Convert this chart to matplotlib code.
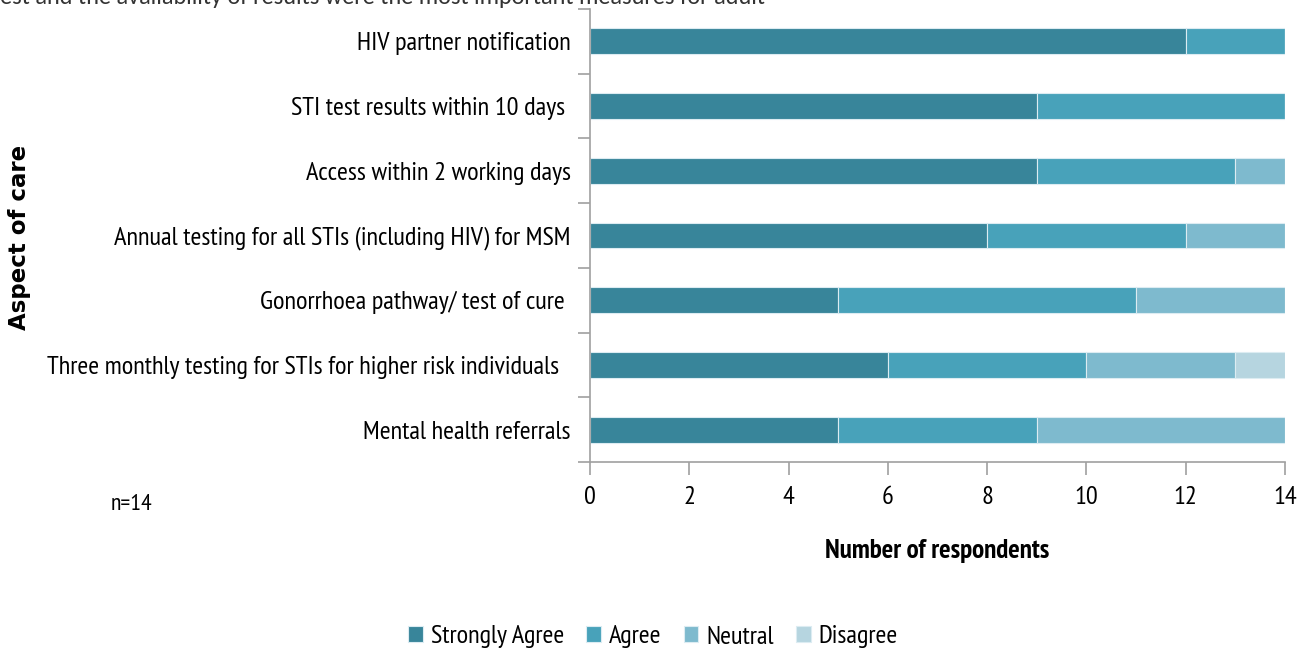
import numpy as np
import matplotlib
matplotlib.use("Agg")
import matplotlib.pyplot as plt

# Aspects of care, top to bottom as shown
aspects = [
    "HIV partner notification",
    "STI test results within 10 days ",
    "Access within 2 working days",
    "Annual testing for all STIs (including HIV) for MSM",
    "Gonorrhoea pathway/ test of cure ",
    "Three monthly testing for STIs for higher risk individuals  ",
    "Mental health referrals",
]
strongly_agree = [12, 9, 9, 8, 5, 6, 5]
agree = [2, 5, 4, 4, 6, 4, 4]
neutral = [0, 0, 1, 2, 3, 3, 5]
disagree = [0, 0, 0, 0, 0, 1, 0]

series = ["Strongly Agree", "Agree", "Neutral", "Disagree"]
colors = ["#38859a", "#48a2ba", "#7ebace", "#b6d5e0"]
xticks = [0, 2, 4, 6, 8, 10, 12, 14]

plt.rcParams["font.family"] = ["PT Sans Narrow", "DejaVu Sans"]

fig = plt.figure(figsize=(13.14, 6.54), dpi=100)
ax = fig.add_axes([590 / 1314, 1 - 462 / 654, 695 / 1314, 453 / 654])

y = np.arange(len(aspects))
left = np.zeros(len(aspects))
for name, vals, c in zip(series, [strongly_agree, agree, neutral, disagree], colors):
    vals = np.array(vals, dtype=float)
    ax.barh(y, vals, left=left, height=0.4, color=c, edgecolor="#dcecf2",
            linewidth=0.8, label=name)
    left += vals

ax.set_ylim(len(aspects) - 0.5, -0.5)
ax.set_xlim(0, 14)
ax.set_xticks(xticks)
ax.set_xticklabels([str(t) for t in xticks], fontsize=19)
ax.set_yticks(y)
ax.set_yticklabels(aspects, fontsize=19)
ax.tick_params(axis="y", length=0, pad=14)
# boundary tick marks between categories
ax.set_yticks(np.arange(-0.5, len(aspects), 1), minor=True)
ax.tick_params(axis="y", which="minor", length=9, color="#a0a0a0", width=1.2)
ax.tick_params(axis="x", length=9, color="#a0a0a0", width=1.2, pad=8)
for s in ["top", "right"]:
    ax.spines[s].set_visible(False)
for s in ["left", "bottom"]:
    ax.spines[s].set_color("#a0a0a0")
    ax.spines[s].set_linewidth(1.2)

ax.set_xlabel("Number of respondents", fontsize=19.5, fontweight="bold", labelpad=22)
fig.text(20 / 1314, 1 - 237 / 654, "Aspect of care", rotation=90, ha="center",
         va="center", fontsize=16.5, fontweight="bold", family="DejaVu Sans")
fig.text(132 / 1314, 1 - 505 / 654, "n=14", ha="center", va="center", fontsize=17)

# caption fragment cut off at the top of the image
fig.text(-8 / 1314, 1 + 3 / 654, "test and the availability of results were the most important measures for adult",
         ha="left", va="center", fontsize=17.5, color="#333333", family=["Carlito", "DejaVu Sans"])

ax.legend(loc="center", bbox_to_anchor=(653 / 1314, 1 - 637 / 654),
          bbox_transform=fig.transFigure, ncol=4, frameon=False, fontsize=19,
          handlelength=0.55, handleheight=0.55, handletextpad=0.3, columnspacing=0.85)

fig.savefig("out.png", dpi=100)
